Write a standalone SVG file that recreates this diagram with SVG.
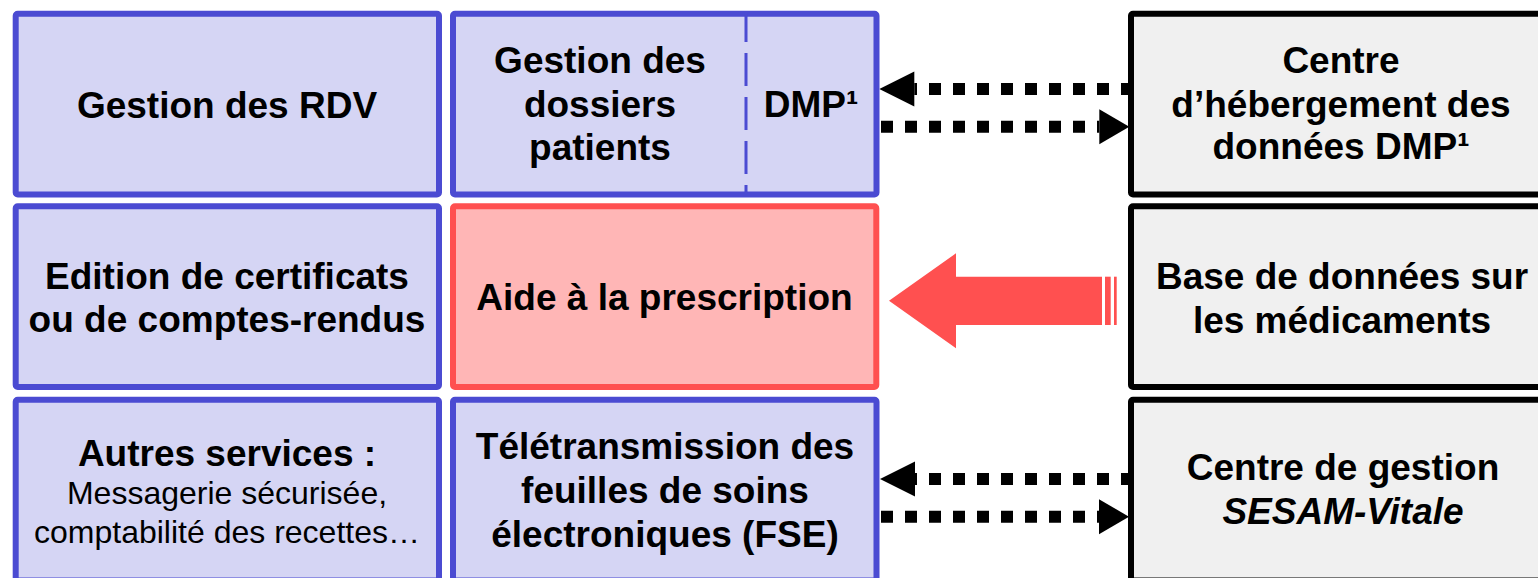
<svg xmlns="http://www.w3.org/2000/svg" width="1538" height="578" viewBox="0 0 1538 578">
<style>
.blue{fill:#D5D5F4;stroke:#4B4BD2;stroke-width:6}
.red{fill:#FFB6B6;stroke:#FF5050;stroke-width:6}
.grey{fill:#F0F0F0;stroke:#000;stroke-width:6}
.t{font-family:"Liberation Sans",Arial,sans-serif;font-weight:bold;font-size:37px;fill:#000;text-anchor:middle}
.s{font-family:"Liberation Sans",Arial,sans-serif;font-size:32px;fill:#000;text-anchor:middle}
.i{font-style:italic}
.dot{fill:none;stroke:#000;stroke-width:12;stroke-dasharray:12 12}
</style>
<defs>
<marker id="headL" markerUnits="userSpaceOnUse" markerWidth="35" markerHeight="35" viewBox="0 0 35 35" refX="0" refY="17.5" orient="auto" overflow="visible">
<path d="M0,0 L35,17.5 L0,35 z" fill="#000"/>
</marker>
<marker id="headR" markerUnits="userSpaceOnUse" markerWidth="30" markerHeight="35" viewBox="0 0 30 35" refX="0" refY="17.5" orient="auto" overflow="visible">
<path d="M0,0 L30,17.5 L0,35 z" fill="#000"/>
</marker>
</defs>

<g id="connectors">
<path class="dot" d="M1133,89 L914.3,89" marker-end="url(#headL)"/>
<path class="dot" d="M881,126.7 L1099.3,126.7" marker-end="url(#headR)"/>
<path class="dot" d="M1133,479 L915,479" marker-end="url(#headL)"/>
<path class="dot" d="M881,516.7 L1099,516.7" marker-end="url(#headR)"/>
<g id="red-arrow" fill="#FF5050">
<polygon points="889,300.8 956,253.3 956,276.7 1102,276.7 1102,325 956,325 956,348.3"/>
<rect x="1105" y="276.7" width="5.7" height="48.3"/>
<rect x="1114" y="276.7" width="2.7" height="48.3"/>
</g>
</g>

<g id="rdv">
<rect class="blue" x="15.7" y="13.7" width="423.3" height="180.8" rx="2"/>
<text class="t" x="227" y="118">Gestion des RDV</text>
</g>

<g id="dossiers">
<rect class="blue" x="453" y="13.7" width="423.5" height="180.8" rx="2"/>
<line x1="746" y1="13.7" x2="746" y2="194.5" stroke="#4B4BD2" stroke-width="3" stroke-dasharray="33 11" stroke-dashoffset="4.7"/>
<text class="t" x="600" y="73">Gestion des</text>
<text class="t" x="600" y="116.5">dossiers</text>
<text class="t" x="600" y="160">patients</text>
<text class="t" x="811" y="117">DMP¹</text>
</g>

<g id="hebergement">
<rect class="grey" x="1131" y="13.7" width="430" height="180.8" rx="2"/>
<text class="t" x="1341" y="72.7">Centre</text>
<text class="t" x="1341" y="116.7">d’hébergement des</text>
<text class="t" x="1341" y="159.3">données DMP¹</text>
</g>

<g id="edition">
<rect class="blue" x="15.7" y="206.3" width="423.3" height="180.7" rx="2"/>
<text class="t" x="227" y="289.3">Edition de certificats</text>
<text class="t" x="227" y="332.3">ou de comptes-rendus</text>
</g>

<g id="aide">
<rect class="red" x="453" y="206.3" width="423.3" height="180.7" rx="2"/>
<text class="t" x="664.5" y="310">Aide à la prescription</text>
</g>

<g id="base">
<rect class="grey" x="1131" y="206.3" width="430" height="180.7" rx="2"/>
<text class="t" x="1342" y="289.3">Base de données sur</text>
<text class="t" x="1342" y="333.3">les médicaments</text>
</g>

<g id="autres">
<rect class="blue" x="15.7" y="399.7" width="423.3" height="180.7" rx="2"/>
<text class="t" x="227" y="466">Autres services :</text>
<text class="s" x="227" y="504">Messagerie sécurisée,</text>
<text class="s" x="227" y="543">comptabilité des recettes…</text>
</g>

<g id="fse">
<rect class="blue" x="453" y="399.7" width="423.5" height="180.7" rx="2"/>
<text class="t" x="665" y="459.3">Télétransmission des</text>
<text class="t" x="665" y="502.7">feuilles de soins</text>
<text class="t" x="665" y="546.7">électroniques (FSE)</text>
</g>

<g id="sesam">
<rect class="grey" x="1131" y="399.7" width="430" height="180.7" rx="2"/>
<text class="t" x="1343" y="480">Centre de gestion</text>
<text class="t i" x="1343" y="524">SESAM-Vitale</text>
</g>
</svg>
